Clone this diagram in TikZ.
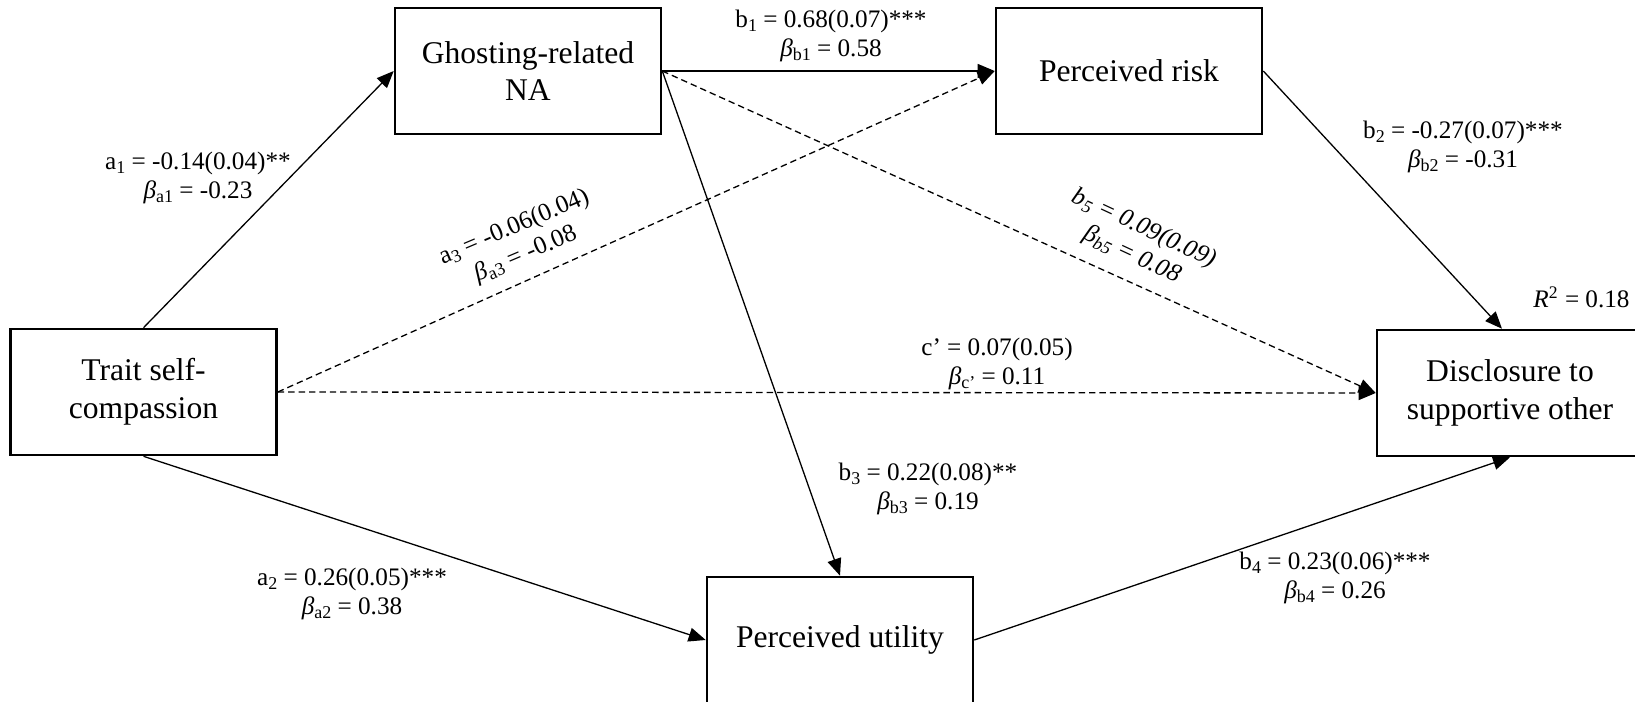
\documentclass[tikz,border=0pt]{standalone}
\usepackage{fontspec}
\setmainfont{Liberation Serif}
\usetikzlibrary{arrows.meta}
% italic beta and lowered index used in the path coefficients
\newcommand{\betaI}{{\itshape β}}
\newcommand{\lo}[1]{\raisebox{-0.35ex}{\fontsize{9}{9}\selectfont #1}}
\begin{document}
\begin{tikzpicture}[x=0.5pt,y=-0.5pt,
  box/.style={draw,line width=1.3pt,minimum width=133pt,minimum height=63pt,
    align=center,inner sep=0pt,font=\fontsize{15.8}{18.8}\selectfont},
  lbl/.style={align=center,inner sep=0pt,font=\fontsize{12.6}{14.6}\selectfont},
  link/.style={line width=0.65pt,-{Triangle[length=8.5pt,width=7pt]}},
  weak/.style={link,dash pattern=on 3.2pt off 2pt}]
\useasboundingbox (0,0) rectangle (1635,702);
\clip (0,0) rectangle (1635,702);

% variables
\node[box] (ghost) at (528,71)    {Ghosting-related\\NA};
\node[box] (risk)  at (1129,71)   {Perceived risk};
\node[box] (trait) at (143.5,392) {Trait self-\\compassion};
\node[box] (disc)  at (1510,393)  {Disclosure to\\supportive other};
\node[box] (util)  at (840,640)   {Perceived utility};

% paths
\draw[link] (trait.north) -- (ghost.west);
\draw[link] (ghost.east) -- (risk.west);
\draw[weak] (trait.east) -- (risk.west);
\draw[weak] (ghost.east) -- (disc.west);
\draw[weak] (trait.east) -- (disc.west);
\draw[link] (ghost.east) -- (util.north);
\draw[link] (trait.south) -- (util.west);
\draw[link] (util.east) -- (disc.south);
\draw[link] (risk.east) -- ([xshift=-4pt]disc.north);

% coefficients
\node[lbl] (lb1) at (831,36) {b\lo{1} = 0.68(0.07)***\\\betaI\lo{b1} = 0.58};
\node[lbl] (la1) at (198,178) {a\lo{1} = -0.14(0.04)**\\\betaI\lo{a1} = -0.23};
\node[lbl,rotate=23] (la3) at (520,241) {a\lo{3} = -0.06(0.04)\\\betaI\lo{a3} = -0.08};
\node[lbl] (lb2) at (1463,147) {b\lo{2} = -0.27(0.07)***\\\betaI\lo{b2} = -0.31};
\node[lbl,rotate=-25,font=\fontsize{12.6}{14.6}\selectfont\itshape] (lb5) at (1138,242) {b\lo{5} = 0.09(0.09)\\β\lo{b5} = 0.08};
\node[lbl,anchor=east] (r2) at (1630,297) {\textit{R}\textsuperscript{2} = 0.18};
\node[lbl] (lc) at (997,364) {c’ = 0.07(0.05)\\\betaI\lo{c’} = 0.11};
\node[lbl] (lb3) at (928,489) {b\lo{3} = 0.22(0.08)**\\\betaI\lo{b3} = 0.19};
\node[lbl] (la2) at (352,594) {a\lo{2} = 0.26(0.05)***\\\betaI\lo{a2} = 0.38};
\node[lbl] (lb4) at (1335,578) {b\lo{4} = 0.23(0.06)***\\\betaI\lo{b4} = 0.26};
\end{tikzpicture}
\end{document}
